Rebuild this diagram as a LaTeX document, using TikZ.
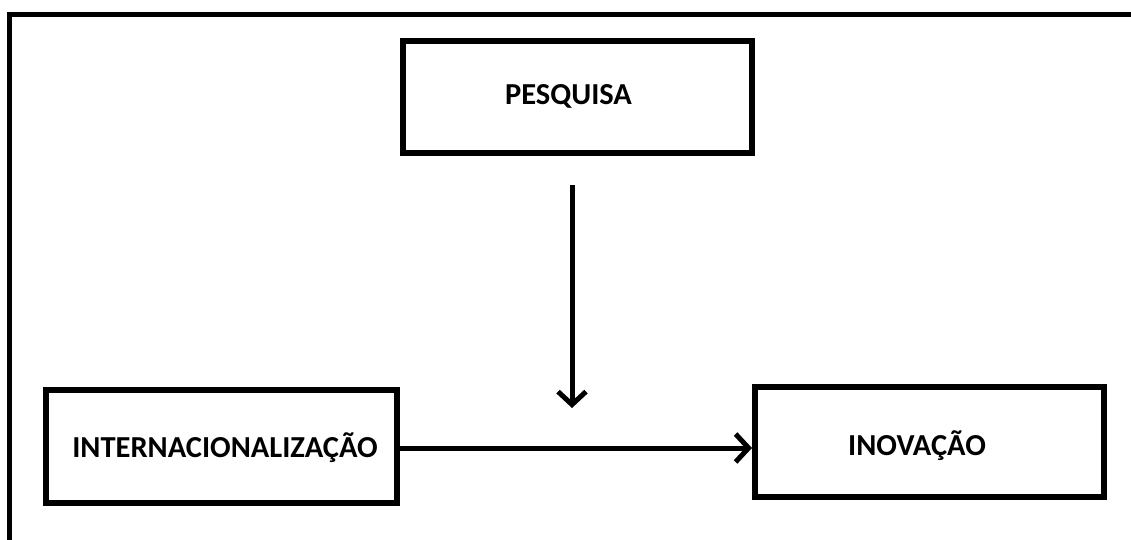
\documentclass[tikz,border=0pt]{standalone}
\usepackage{fontspec}
\setmainfont{Carlito}
\usetikzlibrary{arrows.meta}
\begin{document}
\begin{tikzpicture}[x=1pt,y=-1pt,
  box/.style={draw,line width=6pt,inner sep=0pt},
  lbl/.style={font=\bfseries\fontsize{30.5}{36}\selectfont,text=black},
  arr/.style={line width=5pt,-{Straight Barb[length=13pt,width=28pt,line width=5pt]}}]
\useasboundingbox (0,0) rectangle (1131,540);
\fill[white] (0,0) rectangle (1131,540);
\draw[line width=5pt,line join=miter] (9.5,540) -- (9.5,14.5) -- (1131,14.5);
\node[box,minimum width=349pt,minimum height=112pt] (pesq) at (577.5,97) {};
\node[lbl] (pesqt) at (568.5,96) {PESQUISA};
\node[box,minimum width=351pt,minimum height=113pt] (intern) at (221.5,446.5) {};
\node[lbl] (internt) at (225,448) {INTERNACIONALIZAÇÃO};
\node[box,minimum width=349pt,minimum height=110pt] (inov) at (929.5,442) {};
\node[lbl] (inovt) at (917,446) {INOVAÇÃO};
\coordinate (vstart) at (572,185);
\coordinate (vend) at (572,408);
\draw[arr] (vstart) -- (vend);
\coordinate (hstart) at (intern.east |- 0,448);
\coordinate (hend) at (inov.west |- 0,448);
\draw[arr] (hstart) -- (hend);
\end{tikzpicture}
\end{document}
